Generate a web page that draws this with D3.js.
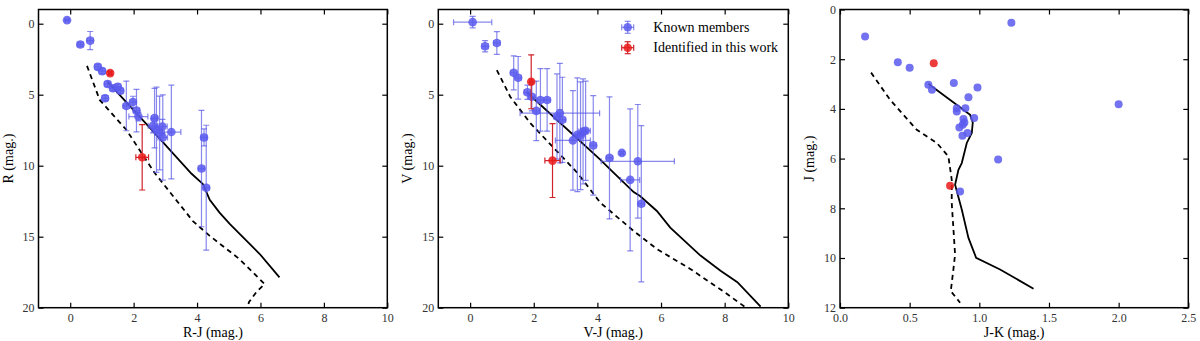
<!DOCTYPE html>
<html>
<head>
<meta charset="utf-8">
<script src="https://cdn.jsdelivr.net/npm/d3@7"></script>
<style>
  body { margin: 0; background: #fff; }
  svg { font-family: "Liberation Serif", "DejaVu Serif", serif; }
</style>
</head>
<body>
<div id="chart"></div>
<script>
// ---- data: [colour, magnitude, colour error, magnitude error] ----
const rjKnown = [
  [-0.10, -0.25, 0.05, 0.05], [0.32, 1.47, 0.1, 0.15], [0.63, 1.19, 0.1, 0.64],
  [0.87, 3.04, 0.1, 0.2], [1.01, 3.34, 0.1, 0.2], [1.18, 4.25, 0.1, 0.2],
  [1.35, 4.55, 0.1, 0.2], [1.50, 4.44, 0.1, 0.2], [1.58, 4.72, 0.1, 0.2],
  [1.10, 5.25, 0.1, 0.2], [1.77, 5.79, 0.1, 1.75], [1.98, 5.51, 0.1, 0.4],
  [2.09, 6.12, 0.1, 1.5], [2.15, 6.54, 0.3, 0.3], [2.66, 6.65, 0.1, 2.1],
  [2.61, 7.19, 0.15, 0.5], [2.72, 7.47, 0.15, 3.0], [2.82, 7.70, 0.15, 2.6],
  [2.91, 7.24, 0.15, 0.5], [2.92, 8.01, 0.15, 3.0], [3.19, 7.63, 0.3, 3.3],
  [4.14, 10.20, 0.1, 4.1], [4.22, 8.01, 0.1, 0.6], [4.29, 11.55, 0.1, 4.4]
];
const rjNew = [[1.26, 3.48, 0.05, 0.1], [2.27, 9.41, 0.2, 2.3]];
const rjSolid = [[1.18, 4.1], [2.5, 7.3], [3.82, 10.55], [4.19, 11.3], [4.40, 12.4],
  [4.71, 13.3], [5.03, 14.1], [5.97, 16.2], [6.60, 17.86]];
const rjDashed = [[0.53, 2.97], [0.93, 5.37], [1.77, 7.47], [2.66, 10.5], [3.87, 13.9],
  [4.40, 14.94], [5.34, 16.58], [6.13, 18.33], [5.87, 18.9], [5.64, 19.6], [5.55, 20.3]];

const vjKnown = [
  [0.08, -0.11, 0.6, 0.4], [0.47, 1.59, 0.1, 0.4], [0.84, 1.36, 0.1, 0.8],
  [1.37, 3.46, 0.1, 1.2], [1.51, 3.81, 0.1, 1.5], [1.80, 4.83, 0.1, 0.5],
  [1.94, 5.14, 0.1, 1.0], [2.21, 5.37, 0.1, 2.2], [2.42, 5.37, 0.1, 2.2],
  [2.08, 6.14, 0.1, 2.1], [2.73, 6.54, 0.1, 3.0], [2.82, 6.30, 1.25, 3.5],
  [2.90, 6.77, 0.1, 3.0], [3.23, 8.22, 0.55, 3.5], [3.37, 7.82, 0.15, 4.0],
  [3.47, 7.89, 0.15, 3.8], [3.55, 7.59, 0.15, 3.7], [3.63, 7.54, 0.15, 3.5],
  [3.87, 8.57, 0.1, 3.5], [4.38, 9.45, 0.1, 4.3], [4.77, 9.10, 0.05, 0.1],
  [5.03, 11.00, 0.3, 5.0], [5.27, 9.69, 1.15, 4.0], [5.38, 12.68, 0.1, 5.5]
];
const vjNew = [[1.92, 4.09, 0.05, 1.9], [2.59, 9.64, 0.24, 2.6]];
const vjSolid = [[1.78, 4.83], [4.09, 9.57], [4.41, 10.27], [5.14, 11.86], [5.34, 12.14],
  [5.87, 13.19], [6.29, 14.36], [7.24, 16.33], [7.87, 17.4], [8.40, 18.2], [9.13, 19.92]];
const vjDashed = [[0.84, 3.27], [1.26, 5.14], [1.89, 7.0], [3.37, 10.5], [4.09, 12.6],
  [5.14, 14.6], [5.87, 15.87], [6.92, 17.27], [7.99, 18.9], [8.62, 19.92]];

const jkKnown = [
  [0.18, 1.09], [0.415, 2.12], [0.50, 2.34], [0.634, 3.03], [0.66, 3.23],
  [0.817, 2.96], [0.987, 3.14], [0.922, 3.53], [0.838, 3.97], [0.838, 4.10],
  [0.90, 3.97], [0.963, 4.37], [0.886, 4.41], [0.893, 4.55], [0.881, 4.64],
  [0.857, 4.75], [0.915, 4.97], [0.879, 5.08], [1.135, 6.04], [1.23, 0.53],
  [2.00, 3.81], [0.862, 7.32]
];
const jkNew = [[0.673, 2.16], [0.79, 7.09]];
const jkSolid = [[0.634, 2.99], [0.934, 4.24], [0.953, 4.55], [0.946, 4.97], [0.91, 5.37],
  [0.874, 6.18], [0.85, 6.45], [0.826, 7.05], [0.874, 8.05], [0.922, 9.19], [0.977, 9.99],
  [1.149, 10.46], [1.389, 11.24]];
const jkDashed = [[0.223, 2.54], [0.359, 3.63], [0.551, 4.84], [0.695, 5.37], [0.778, 5.91],
  [0.802, 6.85], [0.802, 7.78], [0.826, 9.86], [0.814, 10.46], [0.795, 11.33], [0.862, 11.8]];

const legendLabels = ["Known members", "Identified in this work"];

const blueFill = "#5a5aee", blueBar = "rgba(85,85,230,0.7)";
const redFill = "#ea1a1a", redBar = "#d0232b";

const svg = d3.select("#chart").append("svg").attr("width", 1200).attr("height", 341);

function drawPanel(p) {
  const x = d3.scaleLinear().domain(p.xDomain).range([p.left, p.right]);
  const y = d3.scaleLinear().domain(p.yDomain).range([p.top, p.bottom]);
  const g = svg.append("g");

  const clipId = "clip" + p.id;
  svg.append("clipPath").attr("id", clipId).append("rect")
    .attr("x", p.left).attr("y", p.top)
    .attr("width", p.right - p.left).attr("height", p.bottom - p.top);

  const styleAxis = sel => {
    sel.select(".domain").remove();
    sel.selectAll(".tick line").attr("stroke", "#000").attr("stroke-width", 1.2);
    sel.selectAll(".tick text").attr("fill", "#333").style("font-size", "12px")
      .style("font-family", "Liberation Serif, serif");
  };
  g.append("g").attr("transform", `translate(0,${p.bottom})`)
    .call(d3.axisBottom(x).tickValues(p.xTicks).tickSize(-5).tickPadding(6).tickFormat(p.xFmt))
    .call(styleAxis);
  g.append("g").attr("transform", `translate(0,${p.top})`)
    .call(d3.axisTop(x).tickValues(p.xTicks).tickSize(-5).tickFormat(""))
    .call(styleAxis);
  g.append("g").attr("transform", `translate(${p.left},0)`)
    .call(d3.axisLeft(y).tickValues(p.yTicks).tickSize(-5).tickPadding(4))
    .call(styleAxis);
  g.append("g").attr("transform", `translate(${p.right},0)`)
    .call(d3.axisRight(y).tickValues(p.yTicks).tickSize(-5).tickFormat(""))
    .call(styleAxis);

  // isochrones
  const line = d3.line().x(d => x(d[0])).y(d => y(d[1]));
  const lines = g.append("g").attr("clip-path", `url(#${clipId})`);
  lines.append("path").datum(p.dashed).attr("d", line).attr("fill", "none")
    .attr("stroke", "#000").attr("stroke-width", 1.8).attr("stroke-dasharray", "5,4");
  lines.append("path").datum(p.solid).attr("d", line).attr("fill", "none")
    .attr("stroke", "#000").attr("stroke-width", 1.8);

  // error bars + points
  const drawSet = (data, fill, bar, r) => {
    const eg = g.append("g").attr("clip-path", `url(#${clipId})`);
    data.forEach(d => {
      const cx = x(d[0]), cy = y(d[1]);
      const xe = d[2] || 0, ye = d[3] || 0;
      if (ye > 0) {
        eg.append("line").attr("x1", cx).attr("x2", cx).attr("y1", y(d[1] - ye)).attr("y2", y(d[1] + ye))
          .attr("stroke", bar).attr("stroke-width", 1.2);
        [d[1] - ye, d[1] + ye].forEach(v => eg.append("line").attr("x1", cx - 3).attr("x2", cx + 3)
          .attr("y1", y(v)).attr("y2", y(v)).attr("stroke", bar).attr("stroke-width", 1.2));
      }
      if (xe > 0) {
        eg.append("line").attr("y1", cy).attr("y2", cy).attr("x1", x(d[0] - xe)).attr("x2", x(d[0] + xe))
          .attr("stroke", bar).attr("stroke-width", 1.2);
        [d[0] - xe, d[0] + xe].forEach(v => eg.append("line").attr("y1", cy - 3).attr("y2", cy + 3)
          .attr("x1", x(v)).attr("x2", x(v)).attr("stroke", bar).attr("stroke-width", 1.2));
      }
    });
    eg.selectAll("circle.pt").data(data).enter().append("circle")
      .attr("cx", d => x(d[0])).attr("cy", d => y(d[1])).attr("r", r)
      .attr("fill", fill).attr("fill-opacity", 0.85);
  };
  drawSet(p.known, blueFill, blueBar, p.r);
  drawSet(p.found, redFill, redBar, p.r);

  // frame
  g.append("rect").attr("x", p.left).attr("y", p.top)
    .attr("width", p.right - p.left).attr("height", p.bottom - p.top)
    .attr("fill", "none").attr("stroke", "#000").attr("stroke-width", 1.5);

  // axis labels
  g.append("text").attr("x", (p.left + p.right) / 2).attr("y", 337)
    .attr("text-anchor", "middle").style("font-size", "14px").text(p.xLabel);
  g.append("text").attr("transform", `translate(${p.left - 26},${(p.top + p.bottom) / 2}) rotate(-90)`)
    .attr("text-anchor", "middle").style("font-size", "14px").text(p.yLabel);

  return { x, y, g };
}

const colTicks = [0, 2, 4, 6, 8, 10];
const magTicks = [0, 5, 10, 15, 20];

drawPanel({ id: 1, left: 38.5, right: 387.3, top: 9.5, bottom: 307.7, r: 4.3,
  xDomain: [-1, 10], yDomain: [-1, 20], xTicks: colTicks, yTicks: magTicks, xFmt: d3.format("d"),
  known: rjKnown, found: rjNew, solid: rjSolid, dashed: rjDashed,
  xLabel: "R-J (mag.)", yLabel: "R (mag.)" });

drawPanel({ id: 2, left: 438.3, right: 788.3, top: 9.5, bottom: 307.7, r: 4.3,
  xDomain: [-1, 10], yDomain: [-1, 20], xTicks: colTicks, yTicks: magTicks, xFmt: d3.format("d"),
  known: vjKnown, found: vjNew, solid: vjSolid, dashed: vjDashed,
  xLabel: "V-J (mag.)", yLabel: "V (mag.)" });

drawPanel({ id: 3, left: 840, right: 1188.3, top: 9.5, bottom: 307.7, r: 4,
  xDomain: [0, 2.5], yDomain: [0, 12], xTicks: [0, 0.5, 1, 1.5, 2, 2.5], yTicks: [0, 2, 4, 6, 8, 10, 12],
  xFmt: d3.format(".1f"),
  known: jkKnown, found: jkNew, solid: jkSolid, dashed: jkDashed,
  xLabel: "J-K (mag.)", yLabel: "J (mag.)" });

// legend (panel 2)
const leg = svg.append("g");
[[blueFill, blueBar], [redFill, redBar]].forEach((c, i) => {
  const lx = 627.7, ly = 27.3 + i * 20.4;
  leg.append("line").attr("x1", lx - 6).attr("x2", lx + 6).attr("y1", ly).attr("y2", ly)
    .attr("stroke", c[1]).attr("stroke-width", 1.2);
  leg.append("line").attr("x1", lx).attr("x2", lx).attr("y1", ly - 6).attr("y2", ly + 6)
    .attr("stroke", c[1]).attr("stroke-width", 1.2);
  [-6, 6].forEach(o => {
    leg.append("line").attr("x1", lx + o).attr("x2", lx + o).attr("y1", ly - 3).attr("y2", ly + 3)
      .attr("stroke", c[1]).attr("stroke-width", 1.2);
    leg.append("line").attr("x1", lx - 3).attr("x2", lx + 3).attr("y1", ly + o).attr("y2", ly + o)
      .attr("stroke", c[1]).attr("stroke-width", 1.2);
  });
  leg.append("circle").attr("cx", lx).attr("cy", ly).attr("r", 4.3)
    .attr("fill", c[0]).attr("fill-opacity", 0.85);
  leg.append("text").attr("x", 653.3).attr("y", ly + 4.5).style("font-size", "14px")
    .text(legendLabels[i]);
});
</script>
</body>
</html>
